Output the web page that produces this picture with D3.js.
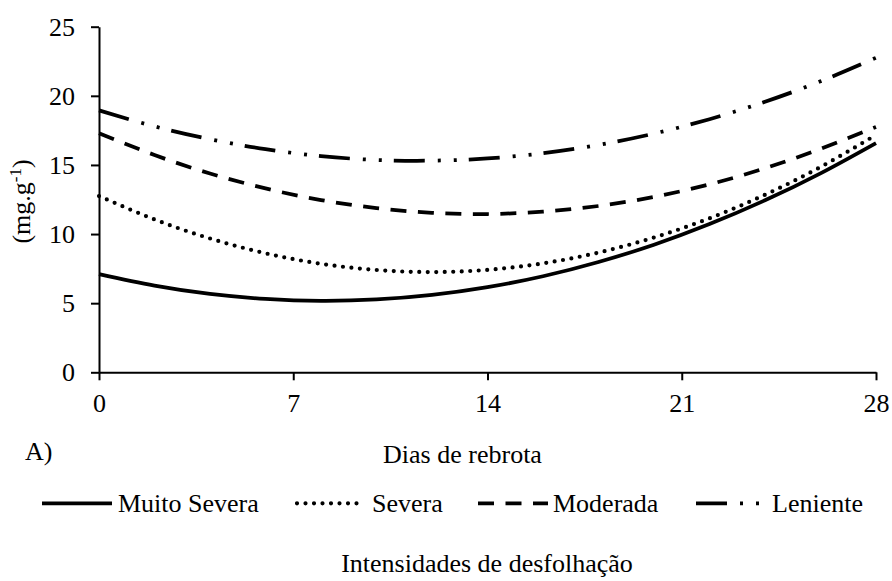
<!DOCTYPE html>
<html>
<head>
<meta charset="utf-8">
<script src="https://cdn.jsdelivr.net/npm/d3@7"></script>
<style>
  html, body { margin: 0; padding: 0; background: #fff; }
  svg { display: block; font-family: "Liberation Serif", "Times New Roman", serif; }
</style>
</head>
<body>
<svg id="chart" width="892" height="581"></svg>
<script>
// ---- data ----
const days = [0, 2, 4, 6, 8, 10, 12, 14, 16, 18, 20, 22, 24, 26, 28];
const muitoSevera = [7.10, 6.27, 5.67, 5.31, 5.17, 5.27, 5.60, 6.16, 6.95, 7.98, 9.23, 10.72, 12.44, 14.39, 16.58];
const severa      = [12.75, 11.06, 9.68, 8.61, 7.85, 7.40, 7.25, 7.41, 7.88, 8.66, 9.75, 11.14, 12.84, 14.85, 17.17];
const moderada    = [17.30, 15.72, 14.38, 13.30, 12.46, 11.88, 11.54, 11.45, 11.62, 12.03, 12.69, 13.60, 14.76, 16.17, 17.75];
const leniente    = [18.95, 17.79, 16.86, 16.14, 15.64, 15.36, 15.31, 15.47, 15.85, 16.45, 17.27, 18.31, 19.57, 21.05, 22.75];
const seriesNames = ["Muito Severa", "Severa", "Moderada", "Leniente"];
const xTicks = [0, 7, 14, 21, 28];
const yTicks = [0, 5, 10, 15, 20, 25];

// ---- styles ----
const styles = {
  "Muito Severa": { dash: null, cap: "butt", width: 3.75 },
  "Severa":       { dash: "0,8.5", cap: "round", width: 4.2 },
  "Moderada":     { dash: "16,11.5", cap: "butt", width: 3.75 },
  "Leniente":     { dash: "31,13,3,13,3,12", cap: "butt", width: 3.75 }
};
const seriesData = [muitoSevera, severa, moderada, leniente];

const svg = d3.select("#chart");
const fontSize = 26;

const x = d3.scaleLinear().domain([0, 28]).range([99, 876]);
const y = d3.scaleLinear().domain([0, 25]).range([372.3, 26.7]);

// axes
const xAxis = d3.axisBottom(x).tickValues(xTicks).tickSize(8).tickSizeOuter(0).tickPadding(13);
const yAxis = d3.axisLeft(y).tickValues(yTicks).tickSize(8).tickSizeOuter(0).tickPadding(16);

const gx = svg.append("g").attr("transform", `translate(0,${y(0)})`).call(xAxis);
const gy = svg.append("g").attr("transform", `translate(${x(0)},0)`).call(yAxis);
[gx, gy].forEach(g => {
  g.selectAll("path, line").attr("stroke", "#000").attr("stroke-width", 2);
  g.selectAll("text").attr("fill", "#000").style("font-size", fontSize + "px")
    .style("font-family", "'Liberation Serif', 'Times New Roman', serif");
});

// lines
const line = d3.line()
  .x((d, i) => x(days[i]))
  .y(d => y(d))
  .curve(d3.curveNatural);

seriesNames.forEach((name, k) => {
  const st = styles[name];
  svg.append("path")
    .datum(seriesData[k])
    .attr("fill", "none")
    .attr("stroke", "#000")
    .attr("stroke-width", st.width)
    .attr("stroke-linecap", st.cap)
    .attr("stroke-dasharray", st.dash)
    .attr("d", line);
});

// y-axis title
const yt = svg.append("text")
  .attr("transform", "translate(30,201.5) rotate(-90)")
  .attr("text-anchor", "middle")
  .style("font-size", fontSize + "px");
yt.append("tspan").text("(mg.g");
yt.append("tspan").attr("dy", -9).style("font-size", "17px").text("-1");
yt.append("tspan").attr("dy", 9).text(")");

// "A)" label and x-axis title
svg.append("text").attr("x", 25).attr("y", 460).style("font-size", fontSize + "px").text("A)");
svg.append("text").attr("x", 462.5).attr("y", 463).attr("text-anchor", "middle")
  .style("font-size", fontSize + "px").text("Dias de rebrota");

// legend
const legendPos = [
  { x1: 42, x2: 112, tx: 118 },
  { x1: 297, x2: 365, tx: 372 },
  { x1: 478, x2: 548, tx: 553 },
  { x1: 696, x2: 760, tx: 772 }
];
const legendLineY = 503.3, legendTextY = 511.7;
seriesNames.forEach((name, k) => {
  const st = styles[name];
  const p = legendPos[k];
  svg.append("line")
    .attr("x1", p.x1).attr("x2", p.x2)
    .attr("y1", legendLineY).attr("y2", legendLineY)
    .attr("stroke", "#000")
    .attr("stroke-width", st.width)
    .attr("stroke-linecap", st.cap)
    .attr("stroke-dasharray", st.dash);
  svg.append("text").attr("x", p.tx).attr("y", legendTextY)
    .style("font-size", fontSize + "px").text(name);
});

svg.append("text").attr("x", 487).attr("y", 571.7).attr("text-anchor", "middle")
  .style("font-size", fontSize + "px").text("Intensidades de desfolhação");
</script>
</body>
</html>
